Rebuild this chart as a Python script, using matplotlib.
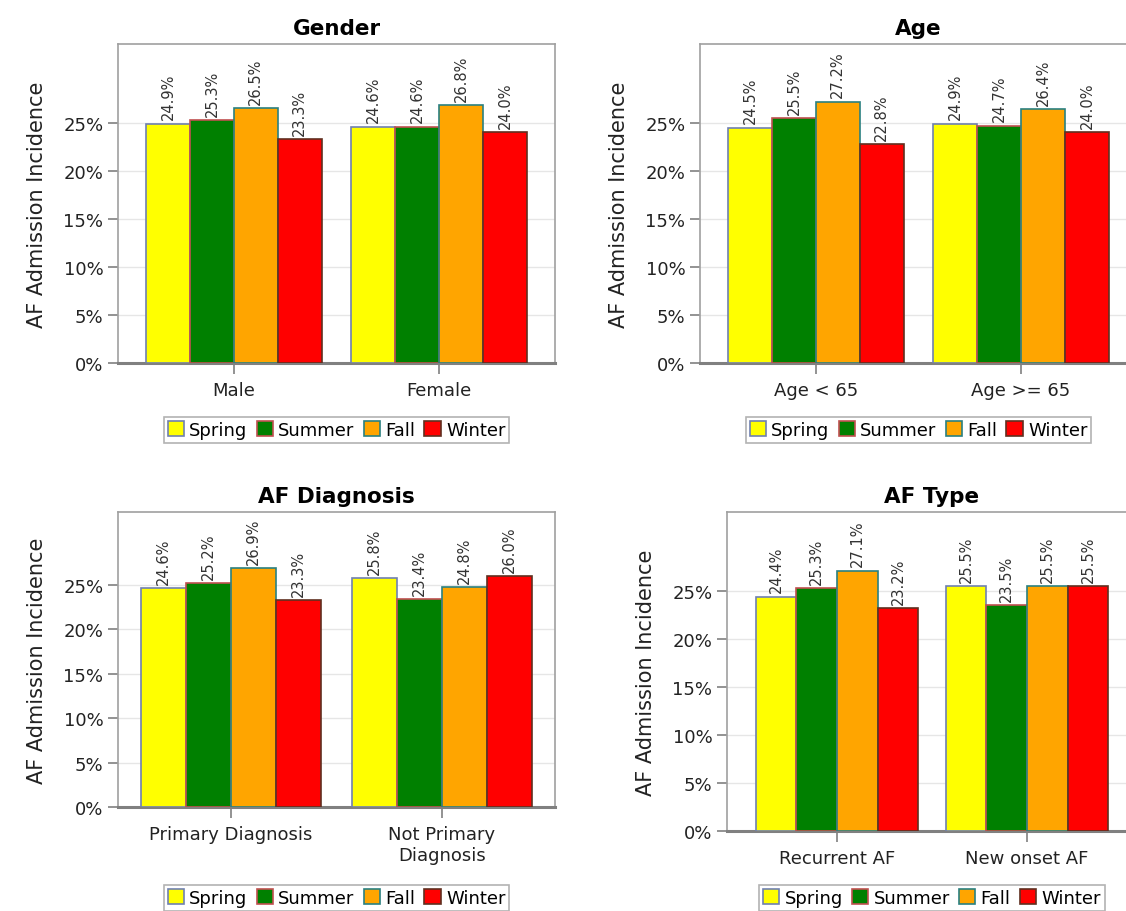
import matplotlib
matplotlib.use("Agg")
import matplotlib.pyplot as plt
import numpy as np

seasons = ["Spring", "Summer", "Fall", "Winter"]
fills = ["#ffff00", "#008000", "#ffa500", "#ff0000"]
edges = ["#7080b0", "#c05050", "#2a8080", "#603020"]

gender_cats = ["Male", "Female"]
gender_vals = [[24.9, 24.6], [25.3, 24.6], [26.5, 26.8], [23.3, 24.0]]

age_cats = ["Age < 65", "Age >= 65"]
age_vals = [[24.5, 24.9], [25.5, 24.7], [27.2, 26.4], [22.8, 24.0]]

diag_cats = ["Primary Diagnosis", "Not Primary\nDiagnosis"]
diag_vals = [[24.6, 25.8], [25.2, 23.4], [26.9, 24.8], [23.3, 26.0]]

type_cats = ["Recurrent AF", "New onset AF"]
type_vals = [[24.4, 25.5], [25.3, 23.5], [27.1, 25.5], [23.2, 25.5]]

W, H = 1126, 912
plt.rcParams["font.family"] = ["DejaVu Sans"]
fig = plt.figure(figsize=(W / 100, H / 100), dpi=100)


def panel(px, margin, title, cats, vals, legend_y):
    l, r, t, b = px
    ax = fig.add_axes([l / W, 1 - b / H, (r - l) / W, (b - t) / H])
    x = np.arange(len(cats))
    bw = 0.214
    for i, s in enumerate(seasons):
        pos = x + (i - 1.5) * bw
        ax.bar(pos, vals[i], bw, color=fills[i], edgecolor=edges[i], linewidth=1.2, label=s, zorder=3)
        for xp, v in zip(pos, vals[i]):
            ax.text(xp, v + 0.45, f"{v:.1f}%", rotation=90, ha="center", va="bottom",
                    fontsize=10.5, color="#333333", zorder=4)
    ax.set_xlim(-margin, 1 + margin)
    ax.set_ylim(0, 33.2)
    ax.set_yticks([0, 5, 10, 15, 20, 25])
    ax.set_yticklabels([f"{v}%" for v in [0, 5, 10, 15, 20, 25]], fontsize=13)
    ax.set_xticks(x)
    ax.set_xticklabels(cats, fontsize=13)
    ax.grid(axis="y", color="#e6e6e6", linewidth=1, zorder=0)
    for sp in ["top", "left", "right"]:
        ax.spines[sp].set_color("#a0a0a0")
        ax.spines[sp].set_linewidth(1.2)
    ax.spines["bottom"].set_color("#808080")
    ax.spines["bottom"].set_linewidth(2.2)
    ax.tick_params(axis="both", color="#808080", length=7, width=1.2, labelcolor="#222222")
    ax.tick_params(axis="x", length=8, pad=5)
    ax.set_ylabel("AF Admission Incidence", fontsize=15, labelpad=12, color="#222222")
    ax.set_title(title, fontsize=15.5, fontweight="bold", pad=7)
    leg = ax.legend(loc="center", bbox_to_anchor=(0.5, 1 - (legend_y - t) / (b - t)), ncol=4,
                    fontsize=13, handlelength=0.9, handleheight=0.9, handletextpad=0.3,
                    columnspacing=0.5, borderpad=0.2, fancybox=False, frameon=True)
    leg.get_frame().set_edgecolor("#a0a0a0")
    leg.get_frame().set_linewidth(1.2)
    return ax


panel((118, 555, 45, 364), 0.565, "Gender", gender_cats, gender_vals, 431)
panel((700, 1137, 45, 364), 0.565, "Age", age_cats, age_vals, 431)
panel((118, 555, 513, 808), 0.537, "AF Diagnosis", diag_cats, diag_vals, 899)
panel((727, 1137, 513, 832), 0.579, "AF Type", type_cats, type_vals, 899)

fig.savefig("out.png", dpi=100)
